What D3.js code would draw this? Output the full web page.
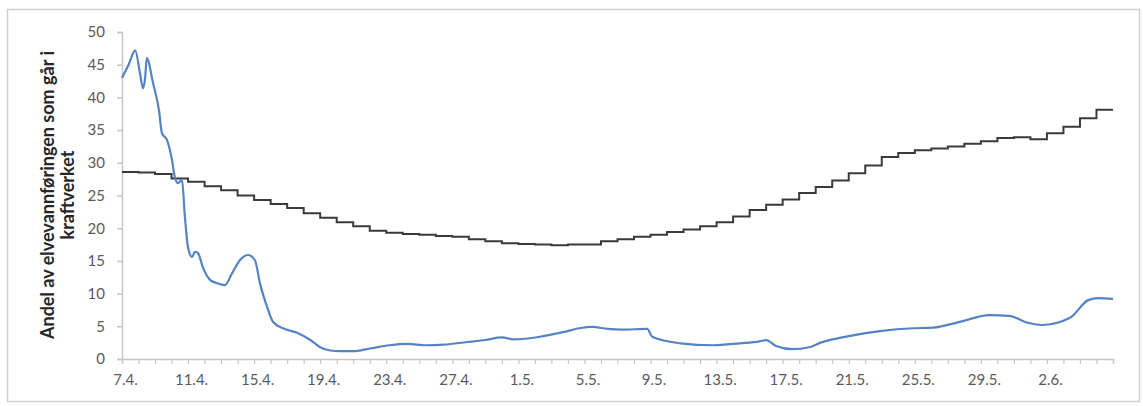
<!DOCTYPE html>
<html>
<head>
<meta charset="utf-8">
<script src="https://cdn.jsdelivr.net/npm/d3@7/dist/d3.min.js"></script>
<style>
  html, body { margin: 0; padding: 0; background: #fff; }
  svg { display: block; }
</style>
</head>
<body>
<svg id="chart" width="1143" height="406"></svg>
<script>
// ---- data ----
const xTickLabels = ["7.4.","11.4.","15.4.","19.4.","23.4.","27.4.","1.5.","5.5.","9.5.","13.5.","17.5.","21.5.","25.5.","29.5.","2.6."];
const xLabelEvery = 4;            // days between labels
const totalDays = 60;             // 7.4. to 6.6.
const yTicks = [0,5,10,15,20,25,30,35,40,45,50];
const yTitleLines = ["Andel av elvevannføringen som går i", "kraftverket"];

// black series: one value per day (step line)
const blackDaily = [
  28.6,28.5,28.3,27.6,27.1,26.4,25.8,25.0,24.3,23.7,
  23.1,22.3,21.6,20.9,20.3,19.6,19.3,19.1,19.0,18.8,
  18.7,18.3,18.0,17.7,17.6,17.5,17.4,17.5,17.5,18.0,
  18.3,18.7,19.0,19.4,19.8,20.3,20.9,21.8,22.8,23.6,
  24.4,25.4,26.3,27.3,28.4,29.6,30.9,31.5,31.9,32.2,
  32.5,32.9,33.3,33.8,33.9,33.6,34.5,35.5,36.8,38.1
];

// blue series: time (days since 7.4.) and value
const blueDays = [
  0.0,0.4,0.8,1.1,1.27,1.4,1.5,1.88,2.24,2.42,2.72,3.03,3.2,3.39,3.63,3.81,4.0,4.24,4.42,4.6,
  4.9,5.33,5.75,6.23,6.66,7.14,7.63,8.05,8.35,8.78,9.14,9.75,10.6,11.4,12.0,12.6,13.2,14.0,15.0,16.2,
  17.3,18.4,19.5,20.9,22.0,23.0,23.7,24.4,25.3,26.7,27.7,28.5,29.4,30.3,31.8,32.1,33.8,35.8,37.4,38.6,
  39.0,39.6,40.6,41.6,42.3,44.0,46.0,47.9,49.1,50.9,52.5,53.7,54.9,55.7,57.4,58.5,59.1,60.0
];
const blueValues = [
  43.0,45.0,47.2,43.5,41.4,43.0,46.0,42.2,38.0,34.5,33.5,30.4,27.8,26.9,27.4,21.7,17.0,15.6,16.4,16.2,
  14.0,12.1,11.6,11.3,13.1,15.1,15.9,15.1,11.6,8.0,5.7,4.7,4.0,2.9,1.8,1.3,1.2,1.2,1.6,2.1,
  2.3,2.1,2.2,2.6,2.9,3.3,3.0,3.1,3.4,4.1,4.7,4.9,4.6,4.5,4.6,3.4,2.4,2.1,2.4,2.7,
  2.9,2.0,1.5,1.8,2.5,3.5,4.3,4.7,4.8,5.8,6.7,6.6,5.5,5.2,6.3,9.0,9.3,9.2
];

// ---- drawing ----
const svg = d3.select("#chart");
const plot = { left: 122, right: 1113, top: 32, bottom: 359 };

// outer frame
svg.append("rect")
  .attr("x", 7.5).attr("y", 9.5).attr("width", 1132).attr("height", 392)
  .attr("fill", "#fff").attr("stroke", "#cfcfcf").attr("stroke-width", 1.5);

const x = d3.scaleLinear().domain([0, totalDays]).range([plot.left, plot.right]);
const y = d3.scaleLinear().domain([0, 50]).range([plot.bottom, plot.top]);

const axisColor = "#c6c6c6";
const labelColor = "#5a5a5a";
const font = "Lato, 'Open Sans', sans-serif";

// y axis
const yAxis = svg.append("g")
  .attr("transform", `translate(${plot.left},0)`)
  .call(d3.axisLeft(y).tickValues(yTicks).tickSize(5).tickPadding(12).tickFormat(d3.format("d")));
yAxis.select(".domain").attr("stroke", axisColor).attr("stroke-width", 1.5);
yAxis.selectAll(".tick line").attr("stroke", axisColor).attr("stroke-width", 1.5);
yAxis.selectAll("text").attr("fill", labelColor).style("font-family", font).style("font-size", "15px");

// x axis
const xAxis = svg.append("g")
  .attr("transform", `translate(0,${plot.bottom})`)
  .call(d3.axisBottom(x)
    .tickValues(d3.range(0, totalDays + 1))
    .tickSize(5).tickPadding(10)
    .tickFormat(d => (d % xLabelEvery === 0 && xTickLabels[d / xLabelEvery]) ? xTickLabels[d / xLabelEvery] : ""));
xAxis.select(".domain").attr("stroke", axisColor).attr("stroke-width", 1.5);
xAxis.selectAll(".tick line").attr("stroke", axisColor).attr("stroke-width", 1.2);
xAxis.selectAll("text").attr("fill", labelColor).style("font-family", font).style("font-size", "15px")
  .attr("dx", "3");

// y title
yTitleLines.forEach((t, i) => {
  svg.append("text")
    .attr("transform", `translate(${54 + i * 20},195) rotate(-90)`)
    .attr("text-anchor", "middle")
    .attr("fill", "#262626")
    .style("font-family", font)
    .style("font-weight", "bold")
    .style("font-size", "18px")
    .text(t);
});

// black step line
const blackPts = blackDaily.map((v, i) => [i, v]);
blackPts.push([totalDays, blackDaily[blackDaily.length - 1]]);
svg.append("path")
  .datum(blackPts)
  .attr("fill", "none")
  .attr("stroke", "#3a3a3a")
  .attr("stroke-width", 2)
  .attr("d", d3.line().x(d => x(d[0])).y(d => y(d[1])).curve(d3.curveStepAfter));

// blue line
const bluePts = blueDays.map((d, i) => [d, blueValues[i]]);
svg.append("path")
  .datum(bluePts)
  .attr("fill", "none")
  .attr("stroke", "#5583c4")
  .attr("stroke-width", 2.2)
  .attr("stroke-linejoin", "round")
  .attr("d", d3.line().x(d => x(d[0])).y(d => y(d[1])).curve(d3.curveMonotoneX));
</script>
</body>
</html>
